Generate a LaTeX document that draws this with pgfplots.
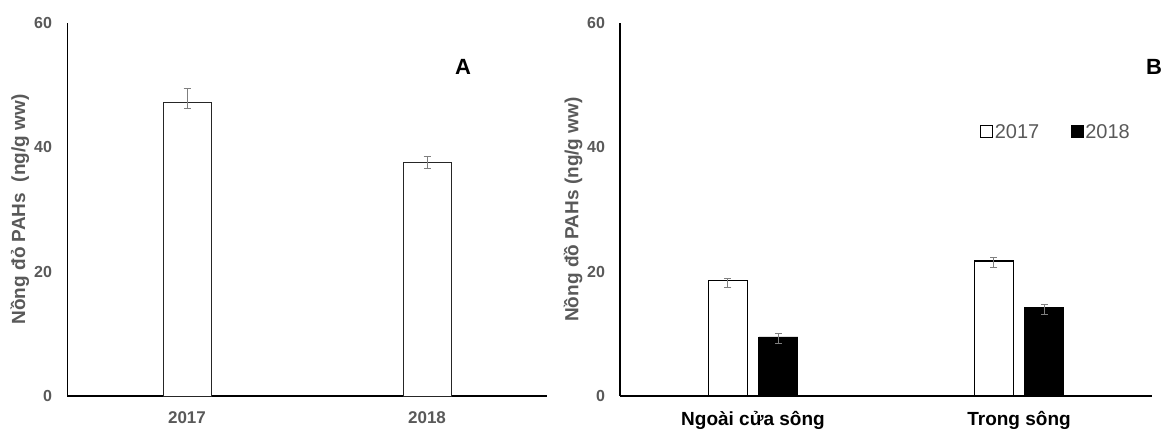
\documentclass[border=0pt]{standalone}
\usepackage{fontspec}
\setmainfont{Liberation Sans}
\usepackage{pgfplots}
\pgfplotsset{compat=1.18}
\definecolor{txtgray}{HTML}{595959}
\definecolor{errgray}{HTML}{7F7F7F}
\begin{document}
\begin{tikzpicture}[x=1pt,y=1pt]
\useasboundingbox (0,0) rectangle (1166,433);
\pgfplotsset{
  common/.style={
    scale only axis, height=373pt,
    anchor=south west,
    ymin=0, ymax=60, ytick={0,20,40,60},
    xmin=-0.5, xmax=1.5, xtick={0,1},
    axis x line=bottom, axis y line=left,
    axis line style={-, black, line width=1.4pt},
    major tick length=0pt,
    clip=false,
    tick label style={/pgf/number format/assume math mode=true},
    yticklabel style={font=\fontsize{16}{18}\selectfont\bfseries, text=txtgray, xshift=-11.5pt},
    error bars/y dir=both, error bars/y explicit,
    error bars/error bar style={errgray, line width=0.9pt},
    error bars/error mark options={rotate=90, mark size=3.5pt, errgray, line width=0.9pt},
  },
}
\begin{axis}[common,
  at={(67pt,37pt)}, width=480pt,
  ybar, bar width=48pt,
  y axis line style={line width=1pt},
  xticklabels={2017,2018},
  xticklabel style={font=\fontsize{17}{19}\selectfont\bfseries, text=txtgray, yshift=-12pt},
  ylabel={Nồng đỏ PAHs\ \ (ng/g ww)},
  every axis y label/.style={at={(axis description cs:-0.098,0.5)}, rotate=90, anchor=center,
    font=\fontsize{19}{21}\selectfont\bfseries, text=txtgray},
]
\addplot[fill=white, draw=black!85, line width=0.8pt]
  coordinates {(0,47.3) += (0,2.2) -= (0,1.0) (1,37.6) += (0,1.0) -= (0,1.0)};
\end{axis}
\begin{axis}[common,
  at={(620pt,37pt)}, width=532pt,
  ybar=11.5pt, bar width=39pt,
  xticklabels={Ngoài cửa sông,Trong sông},
  xticklabel style={font=\fontsize{19}{21}\selectfont\bfseries, text=black, yshift=-12pt},
  ylabel={Nồng đồ PAHs (ng/g ww)},
  every axis y label/.style={at={(axis description cs:-0.088,0.5)}, rotate=90, anchor=center,
    font=\fontsize{19}{21}\selectfont\bfseries, text=txtgray},
  legend columns=2,
  legend style={at={(rel axis cs:0.677,0.708)}, anchor=west, draw=none, fill=none,
    font=\fontsize{20}{22}\selectfont, text=txtgray, inner sep=0pt,
    nodes={inner sep=1.5pt},
    /tikz/every even column/.append style={column sep=30pt}},
]
\addplot[fill=white, draw=black, line width=1.4pt,
  legend image code/.code={\draw[black, line width=1pt, fill=white] (0pt,-6pt) rectangle (12pt,6pt);}]
  coordinates {(0,18.6) += (0,0.3) -= (0,1.2) (1,21.7) += (0,0.6) -= (0,1.1)};
\addlegendentry{2017}
\addplot[fill=black, draw=black, line width=0.8pt,
  legend image code/.code={\draw[black, line width=1pt, fill=black] (0pt,-6pt) rectangle (12pt,6pt);}]
  coordinates {(0,9.5) += (0,0.5) -= (0,1.0) (1,14.2) += (0,0.55) -= (0,1.1)};
\addlegendentry{2018}
\end{axis}
\node[font=\fontsize{22}{24}\selectfont\bfseries] at (463,366) {A};
\node[font=\fontsize{22}{24}\selectfont\bfseries] at (1154,366) {B};
\end{tikzpicture}
\end{document}
